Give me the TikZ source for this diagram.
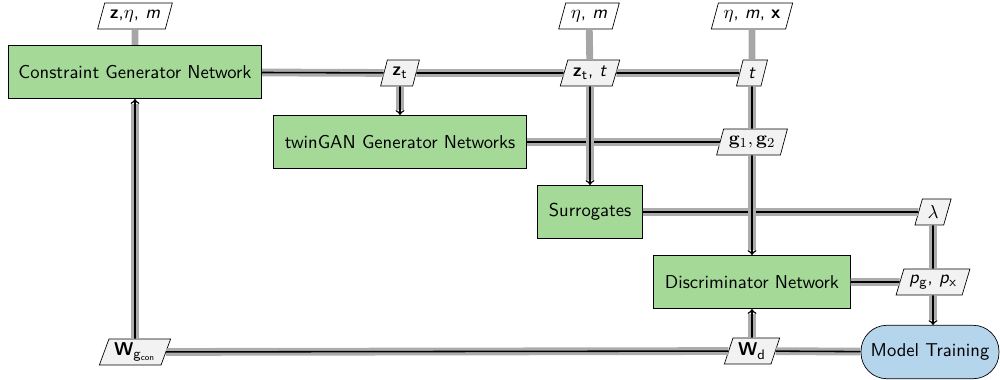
\documentclass[tikz,border=0pt]{standalone}
\usetikzlibrary{shapes.geometric}
\definecolor{netgreen}{RGB}{165,217,152}
\definecolor{trainblue}{RGB}{181,213,236}
\newcommand{\labfont}{\sffamily\fontsize{10.8pt}{13pt}\selectfont}
\tikzset{
  block/.style = {draw=black, fill=netgreen, align=center, inner sep=0pt,
    minimum height=31pt, font=\labfont},% network boxes
  datum/.style = {trapezium, trapezium left angle=68, trapezium right angle=112,
    trapezium stretches=true, draw=black, fill=gray!10, inner xsep=3pt,
    inner ysep=1.5pt, minimum height=15pt, font=\labfont},% signals on the buses
  given/.style = {datum, fill=white},% external inputs
  feed/.style = {draw=gray!70, line width=4pt},
  conn/.style = {draw=black, line width=0.9pt,
    preaction={draw, gray!65, line width=4.5pt, -}},
  flow/.style = {draw=black, line width=0.9pt, ->,
    preaction={draw, gray!65, line width=4.5pt, -, shorten >=3pt}},
}
\begin{document}
\begin{tikzpicture}[x=0.58pt, y=-0.58pt, >=to]
\useasboundingbox (0,0) rectangle (1000,379);
% boxes
\node [block, minimum width=147pt] (cgn) at (135,72) {Constraint Generator Network};
\node [block, minimum width=147pt] (gan) at (400,142) {twinGAN Generator Networks};
\node [block, minimum width=61pt] (sur) at (590,212) {Surrogates};
\node [block, minimum width=114pt] (disc) at (752,282) {Discriminator Network};
\node [block, fill=trainblue, rounded corners=15pt, minimum width=80pt] (mt) at (930,352) {Model Training};
% inputs
\node [given] (zin) at (135,16) {\textbf{z},$\eta$, \textit{m}};
\node [given] (etain) at (589,16) {$\eta$, \textit{m}};
\node [given] (etaxin) at (752,16) {$\eta$, \textit{m}, \textbf{x}};
% signals
\node [datum] (zt) at (400,73) {\textbf{z}$_{\mathsf{t}}$};
\node [datum] (ztt) at (590,73) {\textbf{z}$_{\mathsf{t}}$, \textit{t}};
\node [datum] (tnode) at (752,73) {\textit{t}};
\node [datum] (gg) at (752,142) {$\mathbf{g}_1, \mathbf{g}_2$};
\node [datum] (lam) at (933,212) {$\lambda$};
\node [datum] (pp) at (933,282) {\textit{p}$_{\mathsf{g}}$, \textit{p}$_{\mathsf{x}}$};
\node [datum] (wd) at (752,351) {\textbf{W}$_{\mathsf{d}}$};
\node [datum] (wg) at (135,352) {\textbf{W}$_{\mathsf{g}_{\mathsf{con}}}$};
% external feeds
\draw [feed] (zin) -- (cgn);
\draw [feed] (etain) -- (ztt);
\draw [feed] (etaxin) -- (tnode);
% horizontal buses
\draw [conn] (cgn) -- (zt);
\draw [conn] (zt) -- (ztt);
\draw [conn] (ztt) -- (tnode);
\draw [conn] (gan) -- (gg);
\draw [conn] (sur) -- (lam);
\draw [conn] (disc) -- (pp);
\draw [conn] (mt) -- (wd);
\draw [conn] (wd) -- (wg);
% vertical buses
\draw [flow] (zt) -- (gan);
\draw [flow] (ztt) -- (sur);
\draw [conn] (tnode) -- (gg);
\draw [flow] (gg) -- (disc);
\draw [conn] (lam) -- (pp);
\draw [flow] (pp) -- (pp |- mt.north);
\draw [flow] (wd) -- (disc);
\draw [flow] (wg) -- (cgn);
\end{tikzpicture}
\end{document}
